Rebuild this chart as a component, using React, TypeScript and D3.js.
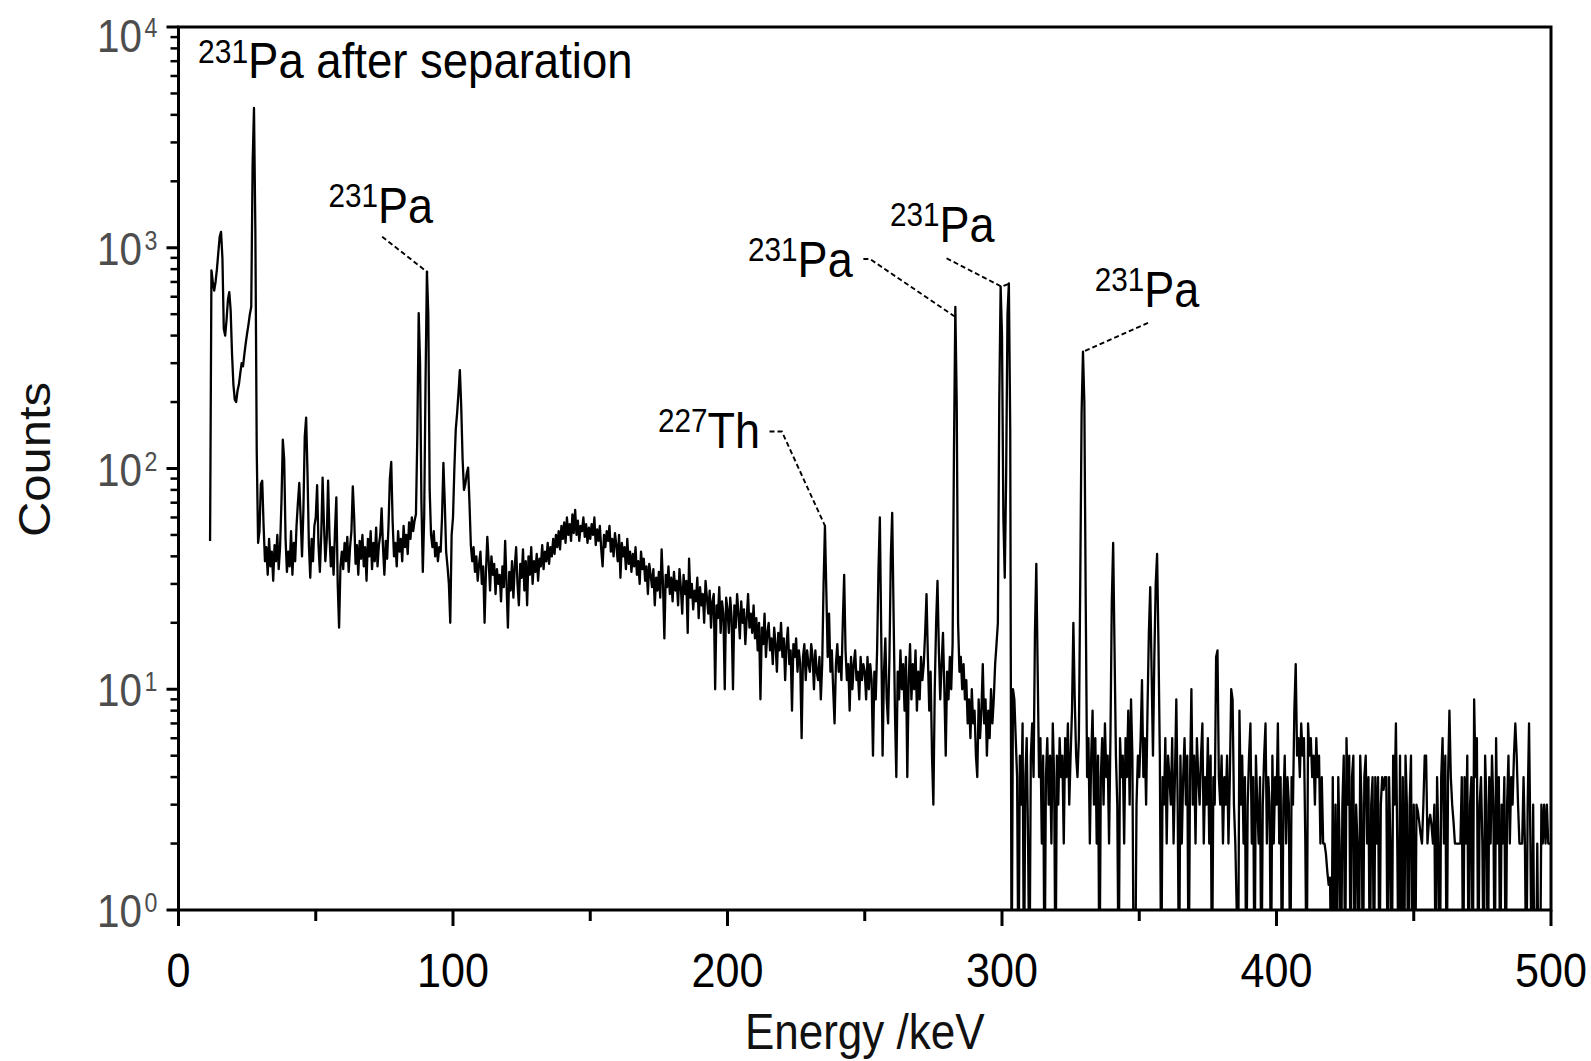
import React from "react";
import * as d3 from "d3";

// ---------------- DATA ----------------
// Gamma spectrum, 0.5 keV channels. Each segment lists counts starting at startKeV.
const CHANNEL_WIDTH_KEV = 0.5;

const counts_011_049 = [
  47, 790, 700, 640, 700, 800, 950, 1120, 1180, 900,
  430, 400, 470, 580, 630, 520, 330, 240, 205, 200,
  225, 240, 270, 300, 290, 330, 370, 410, 450, 500,
  540, 2400, 4300, 1200, 120, 46, 52, 85, 88, 55,
  38, 44, 33, 48, 36, 42, 31, 45, 38, 50,
  35, 44, 70, 135, 110, 48, 34, 42, 36, 52,
  33, 46, 38, 55, 70, 86, 60, 40, 65, 140,
  170, 95, 45, 32, 48, 38, 55,
];

const counts_050_099 = [
  60, 84, 45, 34, 50, 91, 55, 38, 48, 88,
  50, 36, 44, 33, 52, 74, 30, 19, 36, 42,
  35, 46, 38, 49, 34, 44, 52, 83, 60, 37,
  45, 33, 47, 39, 50, 36, 44, 31, 48, 40,
  52, 35, 46, 38, 54, 36, 45, 50, 66, 44,
  33, 47, 39, 55, 90, 107, 58, 40, 46, 36,
  52, 42, 48, 38, 55, 44, 50, 41, 57, 48,
  60, 52, 58, 62, 140, 506, 300, 70, 34, 60,
  250, 780, 500, 80, 50, 44, 52, 40, 46, 38,
  44, 42, 60, 106, 70, 42, 36, 30, 20, 50,
];

const counts_100_149 = [
  60, 100, 150, 178, 220, 279, 190, 110, 80, 85,
  95, 101, 70, 45, 38, 44, 34, 40, 31, 37,
  42, 30, 36, 20, 34, 49, 38, 28, 40, 33,
  37, 27, 35, 30, 33, 25, 36, 29, 47, 30,
  19, 34, 28, 38, 26, 36, 44, 30, 24, 37,
  32, 43, 28, 38, 24, 40, 33, 44, 30, 38,
  34, 41, 31, 39, 36, 45, 35, 42, 38, 46,
  37, 44, 40, 48, 41, 50, 44, 52, 43, 55,
  48, 57, 46, 60, 50, 56, 47, 62, 51, 65,
  50, 58, 47, 55, 52, 60, 49, 56, 46, 54,
];

const counts_150_199 = [
  48, 56, 50, 60, 45, 53, 47, 55, 43, 36,
  50, 44, 52, 47, 55, 42, 48, 40, 51, 45,
  38, 50, 32, 46, 40, 44, 35, 48, 37, 42,
  34, 41, 36, 44, 33, 38, 30, 42, 35, 39,
  31, 36, 27, 37, 33, 29, 35, 24, 32, 28,
  34, 26, 43, 30, 17, 33, 29, 36, 27, 32,
  25, 34, 28, 31, 24, 35, 29, 22, 33, 27,
  31, 18, 39, 26, 30, 23, 28, 25, 32, 21,
  29, 24, 27, 20, 31, 26, 22, 28, 19, 25,
  27, 10, 24, 21, 29, 18, 25, 22, 10, 26,
];

const counts_200_249 = [
  23, 18, 26, 21, 10, 24, 19, 27, 22, 17,
  25, 20, 23, 16, 21, 27, 19, 22, 18, 24,
  17, 21, 15, 20, 9, 19, 16, 22, 14, 18,
  20, 15, 17, 13, 19, 16, 12, 18, 15, 20,
  14, 17, 11, 16, 19, 13, 15, 8, 16, 14,
  17, 12, 15, 13, 6, 14, 16, 11, 15, 13,
  12, 16, 14, 10, 15, 12, 11, 14, 9, 13,
  30, 55, 28, 14, 22, 12, 15, 10, 7, 13,
  16, 12, 14, 11, 20, 33, 15, 11, 13, 8,
  14, 10, 13, 15, 11, 12, 9, 14, 11, 13,
];

const counts_250_299 = [
  12, 9, 14, 10, 13, 11, 5, 12, 9, 15,
  35, 60, 18, 5, 12, 17, 9, 7, 14, 40,
  63, 22, 8, 4, 12, 9, 15, 10, 13, 8,
  14, 4, 11, 16, 9, 13, 10, 15, 8, 12,
  9, 14, 11, 13, 18, 27, 14, 8, 12, 5,
  3, 10, 20, 31, 15, 9, 13, 18, 10, 5,
  12, 9, 14, 10, 16, 120, 540, 200, 20, 12,
  14, 10, 13, 9, 11, 7, 9, 6, 10, 7,
  8, 5, 4, 9, 6, 8, 13, 7, 9, 5,
  8, 6, 10, 7, 9, 13, 16, 20, 200, 666,
];

const counts_300_349 = [
  400, 60, 32, 90, 500, 690, 150, 0, 10, 9,
  6, 4, 0, 5, 3, 7, 0, 4, 6, 2,
  0, 5, 7, 4, 18, 37, 12, 4, 6, 2,
  5, 0, 4, 6, 3, 5, 2, 7, 4, 0,
  5, 3, 6, 4, 5, 2, 6, 4, 7, 3,
  5, 8, 20, 9, 5, 4, 6, 30, 180, 338,
  200, 25, 4, 6, 2, 5, 8, 3, 6, 2,
  5, 0, 4, 6, 3, 7, 4, 5, 2, 6,
  25, 46, 15, 5, 3, 0, 6, 4, 5, 2,
  6, 4, 8, 3, 9, 5, 0, 0, 3, 5,
];

const counts_350_399 = [
  4, 6, 11, 4, 6, 3, 8, 18, 29, 12,
  5, 14, 30, 41, 16, 5, 0, 4, 3, 6,
  2, 5, 4, 3, 6, 2, 4, 9, 3, 0,
  5, 2, 4, 6, 3, 5, 0, 4, 10, 3,
  5, 2, 6, 4, 3, 5, 7, 2, 4, 3,
  6, 2, 5, 0, 4, 3, 14, 15, 4, 3,
  5, 2, 4, 3, 5, 2, 4, 10, 9, 3,
  2, 1, 0, 8, 3, 5, 2, 4, 0, 3,
  5, 7, 2, 4, 0, 5, 3, 2, 4, 0,
  3, 5, 7, 2, 4, 3, 0, 5, 2, 4,
];

const counts_400_449 = [
  3, 7, 2, 4, 0, 3, 5, 2, 4, 3,
  0, 4, 3, 8, 13, 5, 6, 4, 7, 5,
  6, 2, 0, 7, 5, 6, 4, 5, 3, 6,
  4, 5, 2, 4, 2, 2, 1.8, 1.5, 1.3, 1.4,
  0, 4, 0, 3, 0, 4, 2, 0, 3, 5,
  0, 6, 3, 5, 0, 4, 5, 0, 3, 2,
  0, 5, 3, 0, 4, 5, 2, 4, 0, 3,
  4, 0, 4, 2, 4, 0, 3, 4, 3.5, 4,
  4, 0, 4, 2, 0, 5, 3, 7, 2, 0,
  5, 0, 4, 0, 5, 3, 0, 3, 5, 0,
];

const counts_450_500 = [
  3, 0, 3, 2.8, 2.5, 2.2, 2, 3, 5, 5,
  2, 2.5, 2.7, 2.4, 2, 3, 0, 4, 2, 0,
  4, 6, 2, 5, 0, 4, 8, 4, 3, 2.5,
  2, 2, 2, 2, 2, 4, 0, 4, 2, 5,
  0, 3, 4, 0, 9, 4, 6, 0, 3, 4,
  2, 0, 5, 3, 0, 4, 2, 5, 3, 0,
  6, 2, 4, 0, 3, 2, 4, 0, 3, 5,
  2, 4, 3, 5, 7, 5, 3, 2, 2, 2,
  4, 2, 0, 3, 7, 2, 0, 3, 0, 0,
  2, 0, 0, 3, 2, 3, 2, 3, 2, 2,
  2,
];

const spectrumSegments = [
  { startKeV: 11.5, counts: counts_011_049 },
  { startKeV: 50, counts: counts_050_099 },
  { startKeV: 100, counts: counts_100_149 },
  { startKeV: 150, counts: counts_150_199 },
  { startKeV: 200, counts: counts_200_249 },
  { startKeV: 250, counts: counts_250_299 },
  { startKeV: 300, counts: counts_300_349 },
  { startKeV: 350, counts: counts_350_399 },
  { startKeV: 400, counts: counts_400_449 },
  { startKeV: 450, counts: counts_450_500 },
];

const xMajorTicks = [0, 100, 200, 300, 400, 500];
const xMinorTicks = [50, 150, 250, 350, 450];
const yExponents = [0, 1, 2, 3, 4];
const yMinorMultipliers = [2, 3, 4, 5, 6, 7, 8, 9];

const titleMass = "231";
const titleText = "Pa after separation";
const xAxisTitle = "Energy /keV";
const yAxisTitle = "Counts";

// Peak labels: label anchor (keV, counts) and leader line vertices (keV, counts)
const peakLabels = [
  { mass: "231", element: "Pa", atKeV: 54.6, atCounts: 1294, leader: [[74.2, 1122], [90.9, 771]] },
  { mass: "231", element: "Pa", atKeV: 207.5, atCounts: 738, leader: [[249.5, 889], [251.9, 889], [282.9, 487]] },
  { mass: "231", element: "Pa", atKeV: 259.2, atCounts: 1065, leader: [[279.8, 896], [299.9, 666], [302.3, 685]] },
  { mass: "231", element: "Pa", atKeV: 333.8, atCounts: 541, leader: [[353.2, 457], [329.6, 338]] },
  { mass: "227", element: "Th", atKeV: 174.7, atCounts: 124, leader: [[215.3, 147], [219.8, 147], [235.5, 55]] },
];

// ---------------- LAYOUT ----------------
const W = 1591;
const H = 1061;
const M = { left: 178.5, right: 1551, top: 27, bottom: 910 };
const FONT = "'Liberation Sans', Arial, Helvetica, sans-serif";
const SQ = 0.9; // horizontal squeeze of glyphs

export default function App() {
  const x = d3.scaleLinear().domain([0, 500]).range([M.left, M.right]);
  const y = d3.scaleLog().domain([1, 10000]).range([M.bottom, M.top]);

  const points: [number, number][] = [];
  spectrumSegments.forEach((seg) => {
    seg.counts.forEach((c, i) => {
      points.push([seg.startKeV + i * CHANNEL_WIDTH_KEV, c]);
    });
  });

  const line = d3
    .line<[number, number]>()
    .x((d) => x(d[0]))
    .y((d) => y(Math.max(d[1], 0.4)));

  const leaderLine = d3
    .line<number[]>()
    .x((d) => x(d[0]))
    .y((d) => y(d[1]));

  return (
    <svg
      width={W}
      height={H}
      style={{ position: "absolute", left: 0, top: 0, display: "block", background: "#fff" }}
      fontFamily={FONT}
    >
      <defs>
        <clipPath id="plotClip">
          <rect x={M.left} y={M.top} width={M.right - M.left} height={M.bottom - M.top} />
        </clipPath>
      </defs>
      <rect x={0} y={0} width={W} height={H} fill="#fff" />

      {/* spectrum */}
      <path
        d={line(points) || ""}
        fill="none"
        stroke="#000"
        strokeWidth={2.3}
        strokeLinejoin="round"
        clipPath="url(#plotClip)"
      />

      {/* leader lines */}
      {peakLabels.map((p, i) => (
        <path
          key={"ld" + i}
          d={leaderLine(p.leader) || ""}
          fill="none"
          stroke="#000"
          strokeWidth={1.9}
          strokeDasharray="5 3"
        />
      ))}

      {/* peak labels */}
      {peakLabels.map((p, i) => (
        <g key={"pl" + i} transform={`translate(${x(p.atKeV)},${y(p.atCounts)}) scale(${SQ},1)`}>
          <text x={0} y={0} fill="#000">
            <tspan fontSize={33} dy={-16}>{p.mass}</tspan>
            <tspan fontSize={50} dy={16}>{p.element}</tspan>
          </text>
        </g>
      ))}

      {/* title */}
      <g transform={`translate(${M.left + 19.5},${M.top + 51}) scale(0.91,1)`}>
        <text x={0} y={0} fill="#000">
          <tspan fontSize={33} dy={-15}>{titleMass}</tspan>
          <tspan fontSize={50} dy={15}>{titleText}</tspan>
        </text>
      </g>

      {/* frame */}
      <rect
        x={M.left}
        y={M.top}
        width={M.right - M.left}
        height={M.bottom - M.top}
        fill="none"
        stroke="#000"
        strokeWidth={3}
      />

      {/* x ticks */}
      {xMajorTicks.map((t) => (
        <line key={"xM" + t} x1={x(t)} x2={x(t)} y1={M.bottom} y2={M.bottom + 16} stroke="#000" strokeWidth={3} />
      ))}
      {xMinorTicks.map((t) => (
        <line key={"xm" + t} x1={x(t)} x2={x(t)} y1={M.bottom} y2={M.bottom + 11} stroke="#000" strokeWidth={3} />
      ))}
      {xMajorTicks.map((t) => (
        <g key={"xl" + t} transform={`translate(${x(t)},${M.bottom + 77}) scale(0.88,1)`}>
          <text x={0} y={0} textAnchor="middle" fontSize={49} fill="#000">
            {t}
          </text>
        </g>
      ))}

      {/* y ticks */}
      {yExponents.map((e) => (
        <line key={"yM" + e} x1={M.left - 12} x2={M.left} y1={y(10 ** e)} y2={y(10 ** e)} stroke="#000" strokeWidth={3} />
      ))}
      {yExponents.slice(0, -1).map((e) =>
        yMinorMultipliers.map((m) => (
          <line
            key={"ym" + e + "_" + m}
            x1={M.left - 8}
            x2={M.left}
            y1={y(m * 10 ** e)}
            y2={y(m * 10 ** e)}
            stroke="#000"
            strokeWidth={2.5}
          />
        ))
      )}
      {yExponents.map((e) => {
        const base = Math.max(y(10 ** e) + 17, M.top + 25);
        return (
          <g key={"yl" + e} transform={`translate(${M.left - 21},${base}) scale(0.86,1)`}>
            <text x={0} y={0} textAnchor="end" fill="#4d4d4d">
              <tspan fontSize={47}>10</tspan>
              <tspan fontSize={27} dx={3} dy={-15}>{e}</tspan>
            </text>
          </g>
        );
      })}

      {/* axis titles */}
      <g transform={`translate(${(M.left + M.right) / 2},${M.bottom + 139}) scale(0.88,1)`}>
        <text x={0} y={0} textAnchor="middle" fontSize={50} fill="#111">
          {xAxisTitle}
        </text>
      </g>
      <g transform={`translate(50,${(M.top + M.bottom) / 2 - 9}) scale(0.9,1) rotate(-90)`}>
        <text x={0} y={0} textAnchor="middle" fontSize={49} fill="#111">
          {yAxisTitle}
        </text>
      </g>
    </svg>
  );
}
